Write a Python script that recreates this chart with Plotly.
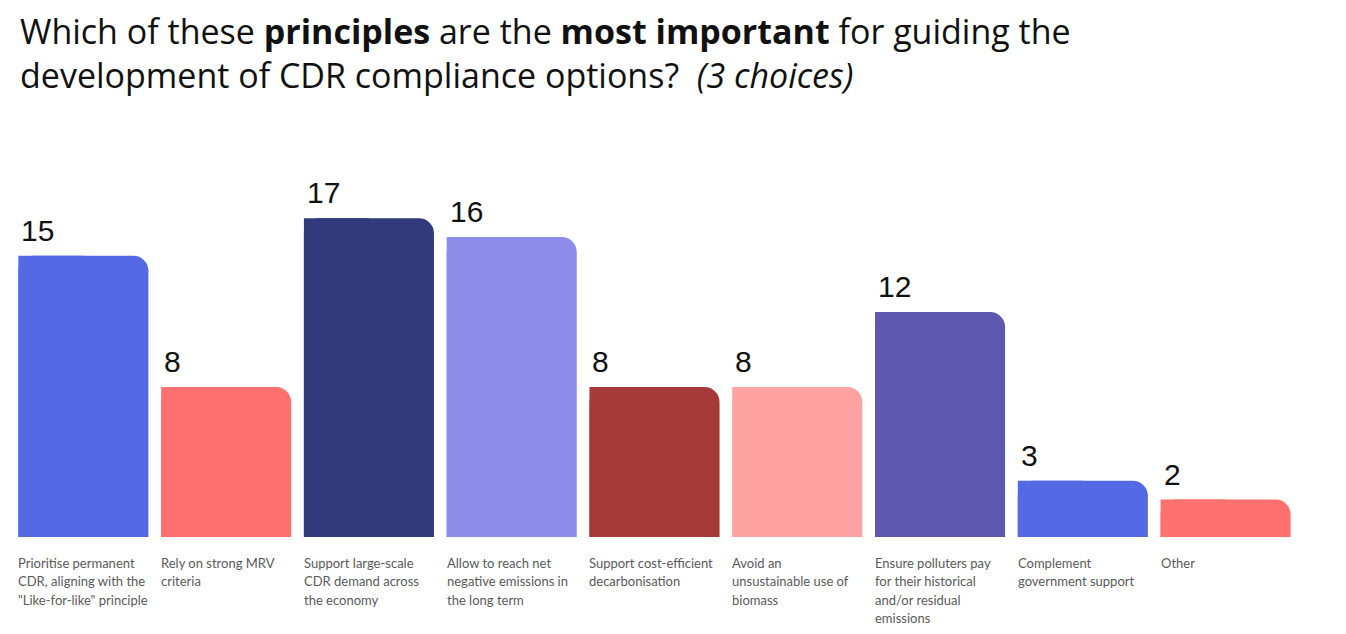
import plotly.graph_objects as go

categories = [
    "Prioritise permanent CDR",
    "Rely on strong MRV criteria",
    "Support large-scale CDR demand",
    "Allow to reach net negative emissions",
    "Support cost-efficient decarbonisation",
    "Avoid unsustainable biomass",
    "Ensure polluters pay",
    "Complement government support",
    "Other",
]
values = [15, 8, 17, 16, 8, 8, 12, 3, 2]
label_lines = [
    ["Prioritise permanent", "CDR, aligning with the", "\"Like-for-like\" principle"],
    ["Rely on strong MRV", "criteria"],
    ["Support large-scale", "CDR demand across", "the economy"],
    ["Allow to reach net", "negative emissions in", "the long term"],
    ["Support cost-efficient", "decarbonisation"],
    ["Avoid an", "unsustainable use of", "biomass"],
    ["Ensure polluters pay", "for their historical", "and/or residual", "emissions"],
    ["Complement", "government support"],
    ["Other"],
]
colors = ["#5669E5", "#FF716F", "#333A7B", "#8D8DE9", "#A63A39",
          "#FFA3A2", "#5E58B1", "#5669E5", "#FF716F"]
title_text = ("Which of these <b>principles</b> are the <b>most important</b> for guiding the<br>"
              "development of CDR compliance options?  <i>(3 choices)</i>")

W = 0.911
xs = list(range(len(categories)))

fig = go.Figure()
# main bars with rounded top corners
fig.add_trace(go.Bar(
    x=xs, y=values, width=W,
    marker=dict(color=colors, line=dict(width=0), cornerradius=15),
    hoverinfo="skip", showlegend=False,
))
# square left half to keep the top-left corner sharp
fig.add_trace(go.Bar(
    x=xs, y=values, width=W / 2, offset=-W / 2,
    marker=dict(color=colors, line=dict(width=0)),
    hoverinfo="skip", showlegend=False,
))

annotations = [dict(
    x=(18 - 12) / 1285, y=1 + (162 - 6) / 375, xref="paper", yref="paper",
    text=title_text, showarrow=False, xanchor="left", yanchor="top", align="left",
    font=dict(family="Open Sans", size=34, color="#111111"),
)]
for i, v in enumerate(values):
    annotations.append(dict(
        x=i - W / 2, y=v, xref="x", yref="y", text=str(v),
        showarrow=False, xanchor="left", yanchor="bottom",
        xshift=1, yshift=7,
        font=dict(family="Liberation Sans, Arial", size=30, color="#111111"),
    ))
    for k, line in enumerate(label_lines[i]):
        annotations.append(dict(
            x=i - W / 2, y=0, xref="x", yref="y", text=line,
            showarrow=False, xanchor="left", yanchor="middle",
            xshift=-2, yshift=-26 - 18.3 * k,
            font=dict(family="Lato, Noto Sans", size=13, color="#5a5a5a"),
        ))

fig.update_layout(
    width=1346, height=634,
    margin=dict(l=12, r=49, t=162, b=97),
    paper_bgcolor="white", plot_bgcolor="white",
    barmode="overlay",
    xaxis=dict(range=[-0.5, 8.5], visible=False, fixedrange=True),
    yaxis=dict(range=[0, 20], visible=False, fixedrange=True),
    annotations=annotations,
    showlegend=False,
)

fig.write_html("out.html", config={"displayModeBar": False})
